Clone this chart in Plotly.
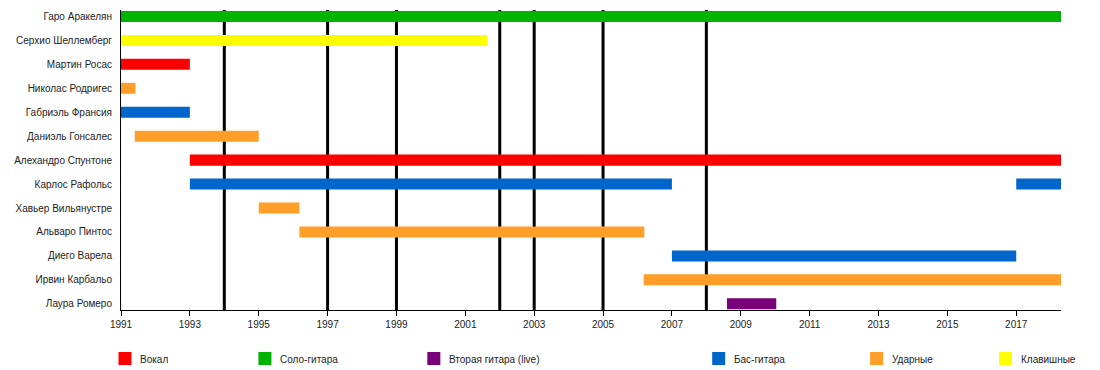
import plotly.graph_objects as go

members = ["Гаро Аракелян", "Серхио Шеллемберг", "Мартин Росас", "Николас Родригес",
           "Габриэль Франсия", "Даниэль Гонсалес", "Алехандро Спунтоне", "Карлос Рафольс",
           "Хавьер Вильянустре", "Альваро Пинтос", "Диего Варела", "Ирвин Карбальо", "Лаура Ромеро"]

# one entry per bar: member, role, start, end
bar_member = ["Гаро Аракелян", "Серхио Шеллемберг", "Мартин Росас", "Николас Родригес",
              "Габриэль Франсия", "Даниэль Гонсалес", "Алехандро Спунтоне", "Карлос Рафольс",
              "Карлос Рафольс", "Хавьер Вильянустре", "Альваро Пинтос", "Диего Варела",
              "Ирвин Карбальо", "Лаура Ромеро"]
bar_role = ["Соло-гитара", "Клавишные", "Вокал", "Ударные", "Бас-гитара", "Ударные", "Вокал",
            "Бас-гитара", "Бас-гитара", "Ударные", "Ударные", "Бас-гитара", "Ударные",
            "Вторая гитара (live)"]
bar_start = [1991.0, 1991.0, 1991.0, 1991.0, 1991.0, 1991.4, 1993.0, 1993.0, 2017.0,
             1995.0, 1996.18, 2007.0, 2006.18, 2008.6]
bar_end = [2018.3, 2001.64, 1993.0, 1991.42, 1993.0, 1995.0, 2018.3, 2007.0, 2018.3,
           1996.18, 2006.2, 2017.0, 2018.3, 2010.03]

album_years = [1994, 1997, 1999, 2002, 2003, 2005, 2008]

roles = ["Вокал", "Соло-гитара", "Вторая гитара (live)", "Бас-гитара", "Ударные", "Клавишные"]
role_colors = ["#FF0000", "#00B300", "#780078", "#0066CC", "#FF9F29", "#FFFF00"]

tick_years = list(range(1991, 2018, 2))

X0, X1 = 1991.0, 2018.3

# page body has an 8px margin; figure coordinates are screen coordinates minus 8
OFF = 8
W, H = 1100 - OFF, 370 - OFF
PLOT_L, PLOT_R = 120.5 - OFF, 1061.0 - OFF
PLOT_T, PLOT_B = 10 - OFF, 310 - OFF

fig = go.Figure()
idx = {m: i for i, m in enumerate(members)}
for role, color in zip(roles, role_colors):
    ys, bases, lens = [], [], []
    for m, r, s, e in zip(bar_member, bar_role, bar_start, bar_end):
        if r == role:
            ys.append(idx[m])
            bases.append(s)
            lens.append(e - s)
    fig.add_trace(go.Bar(y=ys, x=lens, base=bases, orientation="h", name=role,
                         marker=dict(color=color, line=dict(width=0)), width=0.46,
                         showlegend=False))

for yr in album_years:
    fig.add_shape(type="line", xref="x", yref="paper", x0=yr, x1=yr, y0=0, y1=1,
                  line=dict(color="black", width=3), layer="below")

# legend drawn manually (irregular spacing as in reference), screen px positions
legend_px = [118, 258, 427, 712, 870, 999]
PW = PLOT_R - PLOT_L
PH = PLOT_B - PLOT_T
for role, color, px in zip(roles, role_colors, legend_px):
    sx = px - OFF
    fx0 = (sx - PLOT_L) / PW
    fx1 = (sx + 13 - PLOT_L) / PW
    fy0 = (PLOT_B - (365 - OFF)) / PH
    fy1 = (PLOT_B - (352 - OFF)) / PH
    fig.add_shape(type="rect", xref="paper", yref="paper", x0=fx0, x1=fx1, y0=fy0, y1=fy1,
                  fillcolor=color, line=dict(width=0))
    fig.add_annotation(xref="paper", yref="paper", x=(sx + 20 - PLOT_L) / PW,
                       y=(PLOT_B - (359 - OFF)) / PH, text=role, showarrow=False,
                       xanchor="left", yanchor="middle", font=dict(size=10, color="#222"))

fig.update_layout(
    width=W, height=H,
    margin=dict(l=PLOT_L, r=W - PLOT_R, t=PLOT_T, b=H - PLOT_B, autoexpand=False, pad=0),
    paper_bgcolor="white", plot_bgcolor="white",
    barmode="overlay",
    font=dict(family="Liberation Sans, Arial, sans-serif", size=10, color="#222"),
    showlegend=False,
    xaxis=dict(range=[X0, X1], tickvals=tick_years, ticktext=[str(t) for t in tick_years],
               showgrid=False, zeroline=False, showline=True, linecolor="black", linewidth=1,
               ticks="outside", ticklen=5, tickcolor="black", tickwidth=1, automargin=False,
               tickfont=dict(size=10, color="#222")),
    yaxis=dict(range=[12.26, -0.27], tickvals=list(range(len(members))), ticktext=members,
               showgrid=False, zeroline=False, showline=True, linecolor="black", linewidth=1,
               ticks="", ticklabelstandoff=6, automargin=False,
               tickfont=dict(size=10, color="#222")),
)

fig.write_html("out.html")
